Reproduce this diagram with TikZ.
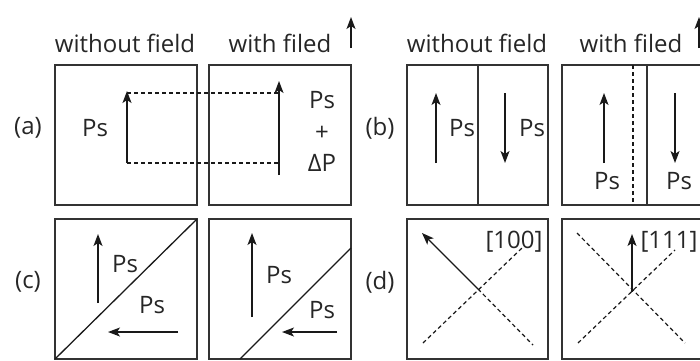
\documentclass[tikz,border=0pt]{standalone}
\usepackage{fontspec}
\setmainfont{Open Sans}
\usetikzlibrary{arrows.meta}
\begin{document}
\begin{tikzpicture}[x=1pt,y=-1pt,
  box/.style={draw,line width=1.5pt,black!80},
  arr/.style={line width=1.4pt,black!90,-{Stealth[length=12pt,width=9pt,inset=3pt]}},
  dsh/.style={line width=1.2pt,black!90,dash pattern=on 4pt off 3pt},
  diag/.style={line width=1.3pt,black!90},
  lbl/.style={font=\fontsize{24}{28}\selectfont,inner sep=0pt,text=black!85}]
\useasboundingbox (0,0) rectangle (700,360);
\clip (0,0) rectangle (700,360);
% column headers
\node[lbl] (h1) at (125,43) {without field};
\node[lbl] (h2) at (280,43) {with filed};
\node[lbl] (h3) at (477,43) {without field};
\node[lbl] (h4) at (631,43) {with filed};
\coordinate (f1b) at (351,48); \coordinate (f1t) at (351,17);
\coordinate (f2b) at (699,48); \coordinate (f2t) at (699,17);
\draw[arr] (f1b) -- (f1t);
\draw[arr] (f2b) -- (f2t);
% row labels
\node[lbl] (la) at (28,128) {(a)};
\node[lbl] (lb) at (380,128) {(b)};
\node[lbl] (lc) at (28,282) {(c)};
\node[lbl] (ld) at (380,282) {(d)};
% boxes
\draw[box] (55,65) rectangle (197,205);
\draw[box] (209,65) rectangle (351,205);
\draw[box] (407,65) rectangle (548,205);
\draw[box] (562,65) rectangle (703,205);
\draw[box] (55,219) rectangle (197,359);
\draw[box] (209,219) rectangle (351,359);
\draw[box] (407,219) rectangle (548,359);
\draw[box] (562,219) rectangle (703,359);
% (a)
\coordinate (a1b) at (127,163); \coordinate (a1t) at (127,91);
\coordinate (a2b) at (279,175); \coordinate (a2t) at (279,81);
\draw[dsh] (127,93) -- (279,93);
\draw[dsh] (a1b) -- (279,163);
\draw[arr] (a1b) -- (a1t);
\draw[arr] (a2b) -- (a2t);
\node[lbl] (aps1) at (95,128) {Ps};
\node[lbl] (aps2) at (322,100) {Ps};
\node[lbl] (aplus) at (322,133) {+};
\node[lbl] (adp) at (322,163) {ΔP};
% (b)
\draw[box] (478,65) -- (478,205);
\draw[box] (647,65) -- (647,205);
\draw[dsh] (633,65) -- (633,205);
\draw[arr] (436,163) -- (436,93);
\draw[arr] (505,93) -- (505,163);
\draw[arr] (604,163) -- (604,93);
\draw[arr] (675,93) -- (675,163);
\node[lbl] (bps1) at (462,128) {Ps};
\node[lbl] (bps2) at (532,128) {Ps};
\node[lbl] (bps3) at (607,181) {Ps};
\node[lbl] (bps4) at (679,181) {Ps};
% (c)
\draw[diag] (55,359) -- (197,219);
\draw[diag] (240,359) -- (351,248);
\draw[arr] (98,303) -- (98,234);
\draw[arr] (178,332) -- (108,332);
\draw[arr] (252,317) -- (252,233);
\draw[arr] (337,332) -- (282,332);
\node[lbl] (cps1) at (125,264) {Ps};
\node[lbl] (cps2) at (152,305) {Ps};
\node[lbl] (cps3) at (279,275) {Ps};
\node[lbl] (cps4) at (322,310) {Ps};
% (d)
\coordinate (dc1) at (478,289);
\coordinate (dc2) at (632,292);
\draw[dsh] (423,343) -- (523,247);
\draw[dsh] (dc1) -- (533,345);
\draw[arr] (dc1) -- (422,233);
\draw[dsh] (577,233) -- (685,343);
\draw[dsh] (578,343) -- (675,250);
\draw[arr] (dc2) -- (632,234);
\node[lbl] (d100) at (514,242) {[100]};
\node[lbl] (d111) at (669,242) {[111]};
\end{tikzpicture}
\end{document}
